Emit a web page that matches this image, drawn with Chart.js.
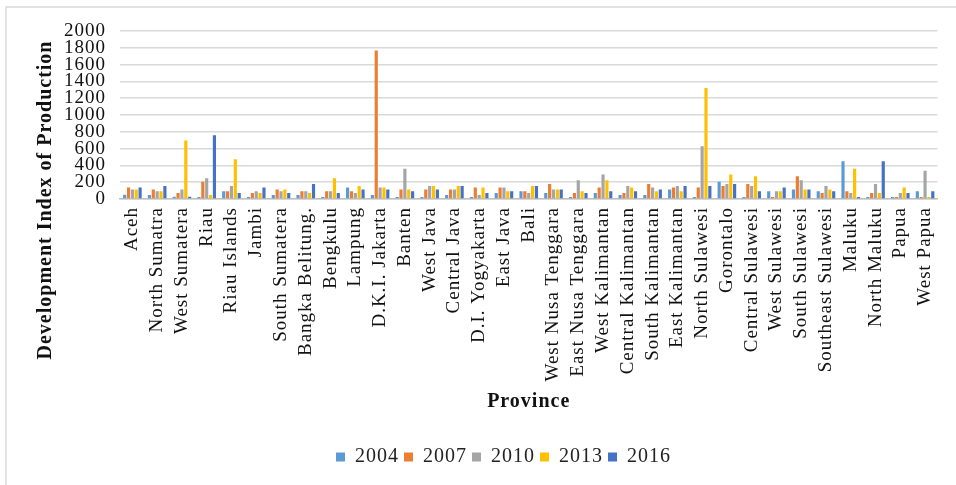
<!DOCTYPE html>
<html>
<head>
<meta charset="utf-8">
<script src="https://cdn.jsdelivr.net/npm/chart.js@4/dist/chart.umd.min.js"></script>
<style>
  html, body { margin: 0; padding: 0; background: #fff; }
  #wrap { width: 956px; height: 485px; position: relative; }
</style>
</head>
<body>
<div id="wrap"><canvas id="chart" width="956" height="485"></canvas></div>
<script>
// ======================
// DATA
// ======================
const provinces = [
    "Aceh", "North Sumatra", "West Sumatera", "Riau", "Riau Islands", "Jambi",
    "South Sumatera", "Bangka Belitung.", "Bengkulu", "Lampung", "D.K.I. Jakarta",
    "Banten", "West Java", "Central Java", "D.I. Yogyakarta", "East Java", "Bali",
    "West Nusa Tenggara", "East Nusa Tenggara", "West Kalimantan", "Central Kalimantan",
    "South Kalimantan", "East Kalimantan", "North Sulawesi", "Gorontalo",
    "Central Sulawesi", "West Sulawesi", "South Sulawesi", "Southeast Sulawesi",
    "Maluku", "North Maluku", "Papua", "West Papua"
];

const years = ["2004", "2007", "2010", "2013", "2016"];

const y2004 = [52, 48, 28, 24, 92, 24, 48, 48, 24, 136, 48, 24, 24, 48, 24, 72, 92,
               72, 24, 72, 48, 48, 112, 24, 204, 24, 92, 112, 92, 448, 24, 24, 92];
const y2007 = [136, 112, 72, 204, 92, 72, 112, 92, 92, 92, 1768, 112, 112, 112, 136, 136, 92,
               180, 72, 136, 72, 180, 136, 136, 156, 180, 24, 272, 72, 92, 72, 24, 24];
const y2010 = [112, 92, 112, 248, 156, 92, 92, 92, 92, 72, 136, 360, 156, 112, 48, 136, 72,
               112, 224, 292, 156, 136, 156, 628, 180, 156, 92, 224, 156, 72, 180, 72, 336];
const y2013 = [112, 92, 696, 48, 472, 72, 112, 72, 248, 156, 136, 112, 156, 156, 136, 92, 156,
               112, 92, 224, 136, 92, 92, 1320, 292, 272, 92, 112, 112, 360, 72, 136, 24];
const y2016 = [136, 156, 28, 760, 72, 136, 72, 180, 72, 112, 112, 92, 112, 156, 72, 92, 156,
               112, 72, 92, 92, 112, 156, 156, 180, 92, 136, 112, 92, 24, 448, 72, 92];

const yTicks = [0, 200, 400, 600, 800, 1000, 1200, 1400, 1600, 1800, 2000];

const seriesValues = [y2004, y2007, y2010, y2013, y2016];
const seriesColors = ["#5B9BD5", "#ED7D31", "#A5A5A5", "#FFC000", "#4472C4"];

const FONT = "'Liberation Serif', 'Times New Roman', serif";

// ======================
// PLUGINS
// ======================
const framePlugin = {
    id: "frame",
    beforeDraw(chart) {
        const ctx = chart.ctx;
        ctx.save();
        ctx.fillStyle = "#fff";
        ctx.fillRect(0, 0, chart.width, chart.height);
        ctx.strokeStyle = "#d9d9d9";
        ctx.lineWidth = 1.5;
        ctx.beginPath();
        ctx.moveTo(6, chart.height);
        ctx.lineTo(6, 7);
        ctx.lineTo(chart.width, 7);
        ctx.stroke();
        ctx.restore();
        // the source text is set a little loose
        ctx.letterSpacing = "1px";
    },
    afterDraw(chart) {
        const ctx = chart.ctx;
        ctx.save();
        ctx.translate(46, 200);
        ctx.rotate(-Math.PI / 2);
        ctx.font = "bold 20px " + FONT;
        ctx.fillStyle = "#111";
        ctx.textAlign = "center";
        ctx.textBaseline = "middle";
        ctx.fillText("Development Index of Production", 0, 0);
        ctx.restore();
    }
};

// ======================
// CHART
// ======================
new Chart(document.getElementById("chart"), {
    type: "bar",
    data: {
        labels: provinces,
        datasets: years.map((yr, i) => ({
            label: yr,
            data: seriesValues[i],
            backgroundColor: seriesColors[i],
            borderWidth: 0,
            categoryPercentage: 0.78,
            barPercentage: 0.82
        }))
    },
    options: {
        responsive: false,
        animation: false,
        devicePixelRatio: 1,
        layout: { padding: { left: 40, right: 9, top: 31, bottom: 8 } },
        plugins: {
            tooltip: { enabled: false },
            legend: {
                position: "bottom",
                labels: {
                    boxWidth: 9,
                    boxHeight: 9,
                    padding: 5,
                    color: "#222",
                    font: { family: FONT, size: 20 }
                }
            }
        },
        scales: {
            x: {
                grid: { display: false, drawTicks: false },
                border: { display: true, color: "#bfbfbf", width: 1.5 },
                ticks: {
                    autoSkip: false,
                    minRotation: 90,
                    maxRotation: 90,
                    padding: 8,
                    color: "#111",
                    font: { family: FONT, size: 19 }
                },
                title: {
                    display: true,
                    text: "Province",
                    color: "#111",
                    padding: { top: 0, bottom: 28 },
                    font: { family: FONT, size: 20, weight: "bold" }
                },
                afterFit(scale) { scale.height = 243; }
            },
            y: {
                min: 0,
                max: 2000,
                afterBuildTicks(scale) { scale.ticks = yTicks.map(v => ({ value: v })); },
                grid: { color: "#d9d9d9", lineWidth: 1.5, drawTicks: false },
                border: { display: false },
                ticks: {
                    autoSkip: false,
                    padding: 14,
                    color: "#111",
                    font: { family: FONT, size: 19 },
                    callback: v => String(v)
                },
                afterFit(scale) { scale.width = 80; }
            }
        }
    },
    plugins: [framePlugin]
});
</script>
</body>
</html>
